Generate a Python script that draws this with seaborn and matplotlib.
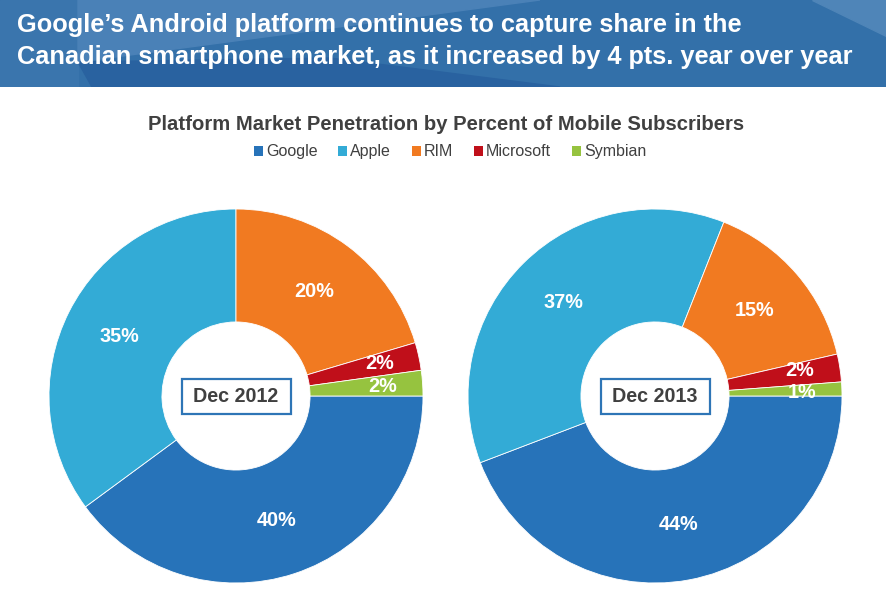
import numpy as np
import seaborn as sns
import matplotlib.pyplot as plt
from matplotlib.patches import Patch, Polygon, Rectangle

# ------------------------------- DONNEES -------------------------------
platforms = ["Google", "Apple", "RIM", "Microsoft", "Symbian"]
share_2012 = [39.9, 35.1, 20.4, 2.4, 2.2]
share_2013 = [44.2, 36.8, 15.4, 2.4, 1.2]
pct_2012 = ["40%", "35%", "20%", "2%", "2%"]
pct_2013 = ["44%", "37%", "15%", "2%", "1%"]
periods = ["Dec 2012", "Dec 2013"]

headline = ("Google\u2019s Android platform continues to capture share in the\n"
            "Canadian smartphone market, as it increased by 4 pts. year over year")
chart_title = "Platform Market Penetration by Percent of Mobile Subscribers"

# ------------------------------- STYLE -------------------------------
sns.set_theme(style="white")
plt.rcParams['font.family'] = ['Liberation Sans', 'DejaVu Sans']
couleurs = sns.color_palette(["#2773B9", "#33ABD6", "#F17A21", "#C00F1A", "#96C33F"])
gris = "#404040"
label_r = [0.70, 0.70, 0.70, 0.785, 0.785]  # distance des etiquettes au centre
# petit decalage angulaire (degres) des etiquettes des petites parts
nudges = [[0, 0, 0, 0.5, -0.3], [0, 0, 0, 1.2, -0.8]]

W, H = 886, 607
fig = plt.figure(figsize=(W / 100, H / 100), dpi=100)

# bandeau bleu en haut
bh = 87
axb = fig.add_axes([0, 1 - bh / H, 1, bh / H])
axb.set_xlim(0, W)
axb.set_ylim(bh, 0)
axb.axis("off")
axb.add_patch(Rectangle((0, 0), W, bh, color="#3370A9", zorder=0))
axb.add_patch(Rectangle((0, 0), 78, bh, color="#3A75AD", zorder=1))
axb.add_patch(Polygon([(78, 0), (540, 0), (78, 62)], color="#4A81B7", zorder=1))
axb.add_patch(Polygon([(78, 62), (92, bh), (560, bh), (330, 58)], color="#2962A0", zorder=1))
axb.add_patch(Polygon([(812, 0), (W, 0), (W, 36)], color="#4F85B8", zorder=1))
fig.text(17 / W, 1 - 41 / H, headline, color="white", fontsize=18.3,
         fontweight="bold", va="center", ha="left", linespacing=1.45)

fig.text(446 / W, 1 - 124 / H, chart_title, color=gris, fontsize=14.6,
         fontweight="bold", ha="center", va="center")

handles = [Patch(facecolor=c, edgecolor="none", label=p) for p, c in zip(platforms, couleurs)]
leg = fig.legend(handles=handles, loc="center", bbox_to_anchor=(450 / W, 1 - 152 / H),
                 ncol=5, frameon=False, handlelength=0.55, handleheight=0.55,
                 handletextpad=0.2, columnspacing=1.3, fontsize=11.5)
for t in leg.get_texts():
    t.set_color(gris)

# ------------------------------- DONUTS -------------------------------
R = 187
centres = [(236, 396), (655, 396)]
for (cx, cy), share, pct, per, nud in zip(centres, [share_2012, share_2013],
                                          [pct_2012, pct_2013], periods, nudges):
    ax = fig.add_axes([(cx - R) / W, (H - cy - R) / H, 2 * R / W, 2 * R / H])
    wedges, _ = ax.pie(share, colors=couleurs, startangle=0, counterclock=False, radius=1,
                       wedgeprops=dict(width=0.604, edgecolor="white", linewidth=0.6))
    for w, lab, rr, dn in zip(wedges, pct, label_r, nud):
        a = np.deg2rad((w.theta1 + w.theta2) / 2 + dn)
        ax.text(rr * np.cos(a), rr * np.sin(a), lab, color="white", fontsize=14.3,
                fontweight="bold", ha="center", va="center")
    bw, bhx = 109 / R, 35 / R
    ax.add_patch(Rectangle((-bw / 2, -bhx / 2), bw, bhx, facecolor="white",
                           edgecolor="#2E75B6", linewidth=1.6, zorder=3))
    ax.text(0, 0, per, color=gris, fontsize=14.2, fontweight="bold",
            ha="center", va="center", zorder=4)
    ax.set_xlim(-1, 1)
    ax.set_ylim(-1, 1)
    ax.set_aspect("equal")
    ax.axis("off")

fig.savefig("out.png", dpi=100)
